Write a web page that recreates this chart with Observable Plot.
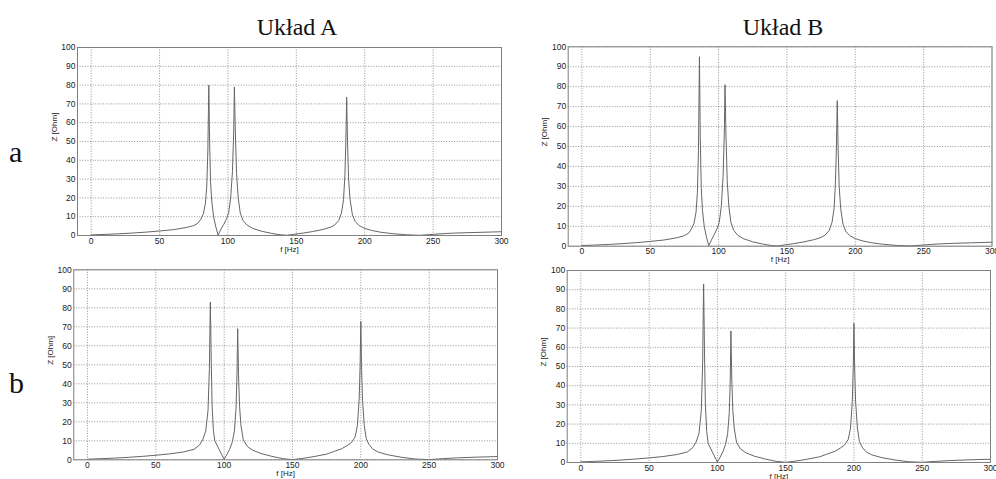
<!DOCTYPE html>
<html>
<head>
<meta charset="utf-8">
<script src="https://cdn.jsdelivr.net/npm/d3@7"></script>
<script src="https://cdn.jsdelivr.net/npm/@observablehq/plot@0.6"></script>
<style>
  html, body { margin: 0; padding: 0; background: white; }
  #root { position: relative; width: 996px; height: 479px; overflow: hidden; background: white; }
  .panel { position: absolute; }
  .lbl { position: absolute; font-family: "Liberation Serif", "Times New Roman", serif; color: #111; white-space: nowrap; }
  .title { font-size: 24px; line-height: 24px; transform: translateX(-50%); }
  .row { font-size: 30px; line-height: 30px; }
</style>
</head>
<body>
<div id="root"></div>
<script>
// ---- data ----
const titles = ["Układ A", "Układ B"];
const rowLabels = ["a", "b"];
const xTicks = [0, 50, 100, 150, 200, 250, 300];
const yTicks = [0, 10, 20, 30, 40, 50, 60, 70, 80, 90, 100];

// top row (a): frequencies [Hz]
const freqTop = [0,10,20,30,40,50,60,70,75,78, 80,82,83.5,84.5,85.3,86,86.6,87.3,88.2,89.5,
  91,92.8,95,97,99,100.5,102,103.3,104.2,104.7, 105.4,106.3,107.5,109,111,114,118,125,132,138,
  143,148,155,162,170,175,178,181,183,184.5, 185.5,186.2,186.8,187.4,188.2,189.3,191,193,196,200,
  205,212,220,230,240,250,260,270,285,300];
// Układ A, row a: Z [Ohm]
const zAa = [0.3,0.6,0.9,1.3,1.8,2.4,3.1,4.3,5.3,6.5, 8.5,11.5,17,26,45,80,50,28,18,10,
  5,0.2,3.5,6,9,12,20,34,55,79, 55,33,20,12,8,5.5,3.8,2.2,1.1,0.4,
  0.1,0.6,1.3,2.1,3.3,4.4,5.6,8,12,19, 32,50,73.5,50,30,19,11,7.5,5.2,3.8,
  2.7,1.7,1,0.4,0.1,0.6,1.1,1.4,1.7,2];
// Układ B, row a
const zBa = [0.3,0.6,0.9,1.3,1.8,2.4,3.1,4.3,5.3,6.5, 8.5,11.5,17,27,48,95,55,30,18,10,
  5,0.2,3.5,6,9,12,20,35,57,81, 56,33,20,12,8,5.5,3.8,2.2,1.1,0.4,
  0.1,0.6,1.3,2.1,3.3,4.4,5.6,8,12,19, 32,50,73,50,30,19,11,7.5,5.2,3.8,
  2.7,1.7,1,0.4,0.1,0.6,1.1,1.4,1.7,2];

// bottom row (b): frequencies [Hz]
const freqBot = [0,10,20,30,40,50,60,70,78,82, 84.3,86.5,88.2,89.2,89.9,90.6,91.2,92.2,93.2,96,
  100,102,104,106,107.5,108.7,109.4,109.9,110.5,111.3, 112.3,114,117,121,127,135,143,150,157,165,
  175,180,186,190,193,195.8,197.5,198.8,199.5,200, 200.5,201.2,202.5,204,206,209,213,220,230,240,
  250,260,270,285,300];
// Układ A, row b
const zAb = [0.3,0.6,0.9,1.3,1.8,2.4,3.1,4.1,5.5,7.8, 10.5,15,26,48,83,50,28,15,10,5.9,
  0.2,2.8,5.5,9.5,15,27,45,69,45,28, 18,10.5,7,5,3.3,1.8,0.6,0.1,0.7,1.6,
  3,4.3,5.8,7.5,9,12,18,32,50,72.8, 50,32,18,11,8,5.5,4,2.6,1.3,0.4,
  0.1,0.6,1,1.4,1.7];
// Układ B, row b
const zBb = [0.3,0.6,0.9,1.3,1.8,2.4,3.1,4.1,5.5,7.8, 10.5,15,27,52,93,55,30,16,10,5.9,
  0.2,2.8,5.5,9.5,15,26,43,68.5,44,27, 18,10.5,7,5,3.3,1.8,0.6,0.1,0.7,1.6,
  3,4.3,5.8,7.5,9,12,18,32,50,72.5, 50,32,18,11,8,5.5,4,2.6,1.3,0.4,
  0.1,0.6,1,1.4,1.7];

const xLabel = "f [Hz]";
const yLabel = "Z [Ohm]";

// ---- drawing ----
const root = document.getElementById("root");

function panel(freq, z, box) {
  const data = freq.map((f, i) => ({f, z: z[i]}));
  const gridStyle = {stroke: "#7a7a7a", strokeOpacity: 1, strokeWidth: 0.8, strokeDasharray: "1,1.6"};
  const svg = Plot.plot({
    width: box.w, height: box.h,
    marginLeft: box.ml, marginRight: box.mr, marginTop: box.mt, marginBottom: box.mb,
    style: {fontFamily: "'Liberation Sans', Arial, sans-serif", fontSize: "8.5px", color: "#222", background: "transparent", overflow: "visible"},
    x: {domain: [-10, 300]},
    y: {domain: [0, 100]},
    marks: [
      Plot.ruleX(xTicks, gridStyle),
      Plot.ruleY(yTicks, gridStyle),
      Plot.line(data, {x: "f", y: "z", stroke: "#666", strokeWidth: 1}),
      Plot.frame({stroke: "#7f7f7f", strokeWidth: 1}),
      Plot.axisX(xTicks, {tickSize: 0, tickPadding: box.px, label: null}),
      Plot.axisY(yTicks, {tickSize: 0, tickPadding: 2, label: null}),
      Plot.text([xLabel], {frameAnchor: "bottom", dy: box.ldy, fontSize: 8, fill: "#222"}),
      Plot.text([yLabel], {frameAnchor: "left", rotate: -90, dx: box.ldx, fontSize: 8, fill: "#222"})
    ]
  });
  const div = document.createElement("div");
  div.className = "panel";
  div.style.left = box.left + "px";
  div.style.top = box.top + "px";
  div.style.width = box.w + "px";
  div.style.height = box.h + "px";
  div.appendChild(svg);
  root.appendChild(div);
}

panel(freqTop, zAa, {left: 0, top: 0, w: 530, h: 256, ml: 77, mr: 29, mt: 47, mb: 21, px: 2.5, ldy: 16.5, ldx: -23});
panel(freqBot, zAb, {left: 0, top: 256, w: 530, h: 223, ml: 73.3, mr: 33, mt: 13.3, mb: 19.7, px: 2, ldy: 16, ldx: -23});
panel(freqTop, zBa, {left: 530, top: 0, w: 466, h: 266, ml: 37.7, mr: 4.5, mt: 46.3, mb: 20.3, px: 1.5, ldy: 15.5, ldx: -24});
panel(freqBot, zBb, {left: 530, top: 266, w: 466, h: 213, ml: 36.7, mr: 6, mt: 4, mb: 17, px: 2.5, ldy: 16.5, ldx: -24});

function label(text, cls, left, top) {
  const d = document.createElement("div");
  d.className = "lbl " + cls;
  d.style.left = left + "px";
  d.style.top = top + "px";
  d.textContent = text;
  root.appendChild(d);
}
label(titles[0], "title", 297, 15);
label(titles[1], "title", 783, 15);
label(rowLabels[0], "row", 9, 137);
label(rowLabels[1], "row", 9, 368);
</script>
</body>
</html>
